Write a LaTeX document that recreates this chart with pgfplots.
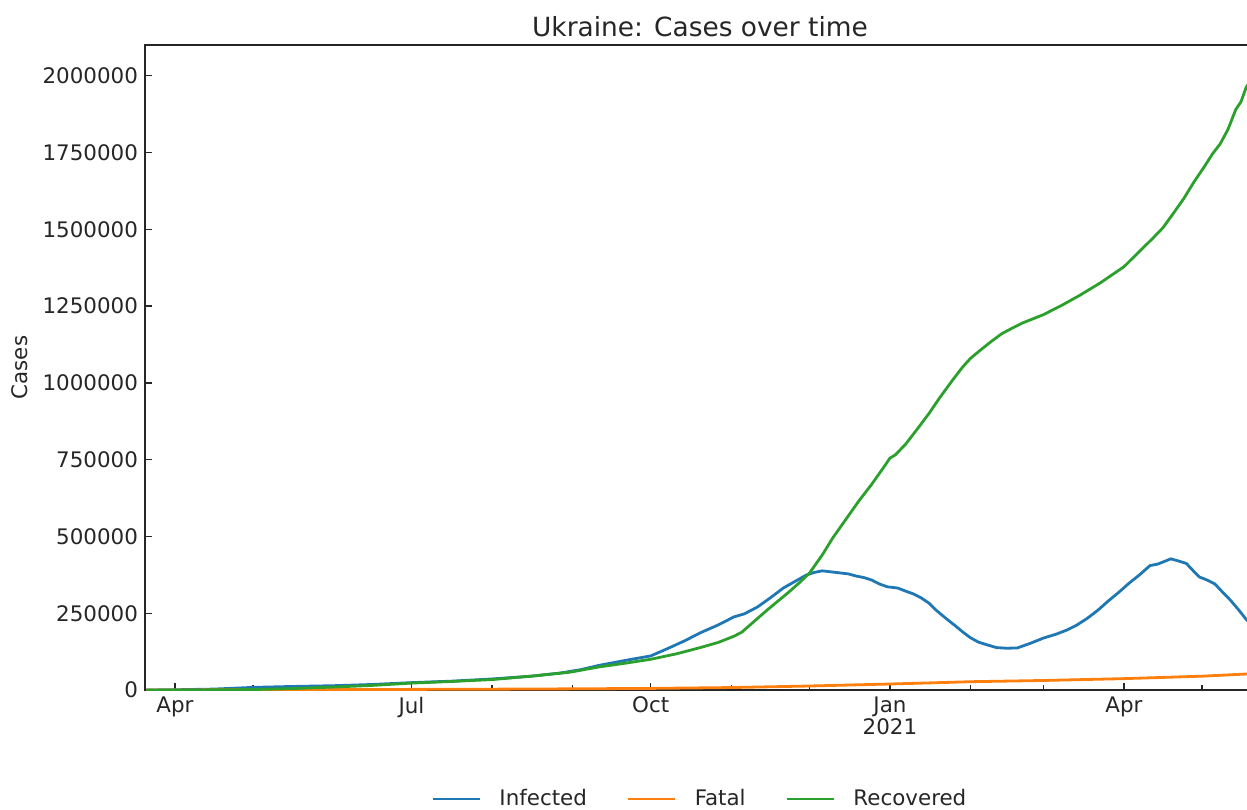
\documentclass[border=0pt]{standalone}
\usepackage{fontspec}
\setmainfont{DejaVu Sans}
\usepackage{pgfplots}
\usepackage{pgfplotstable}
\pgfplotsset{compat=1.18}

\definecolor{mplblue}{HTML}{1F77B4}
\definecolor{mplorange}{HTML}{FF7F0E}
\definecolor{mplgreen}{HTML}{2CA02C}

% day = days since 2020-04-01
\pgfplotstableread{
day cases
-11 0
0 800
15 3000
30 8500
45 11500
61 14000
76 18000
91 24000
107 29000
122 36000
137 45000
148 55000
156 66000
163 80000
173 96000
183 111000
189 133000
196 160000
202 186000
209 212000
215 238000
219 248000
224 270000
229 300000
234 332000
239 356000
243 375000
246 383000
249 388000
252 385000
256 381000
259 378000
262 371000
265 366000
268 358000
271 345000
274 336000
278 332000
281 322000
284 313000
287 300000
290 283000
293 258000
297 230000
300 210000
303 189000
306 170000
309 156000
312 148000
316 138000
320 136000
324 137000
329 152000
334 169000
339 182000
343 195000
347 212000
351 234000
355 260000
359 290000
363 318000
367 348000
371 375000
375 405000
378 410000
381 420000
383 427000
386 420000
389 412000
392 385000
394 368000
397 358000
400 345000
403 318000
406 292000
409 262000
412 230000
416 195000
}\infected

\pgfplotstableread{
day cases
-11 0
0 200
30 600
61 1200
91 2000
122 2700
153 3800
183 5200
214 8000
244 13000
275 19500
298 25000
306 27000
334 31000
365 37000
395 45000
412 52000
416 53500
}\fatal

\pgfplotstableread{
day cases
-11 0
0 100
15 400
30 1500
45 4500
61 9600
76 15000
91 22500
107 28000
122 34000
137 45000
152 58000
163 75000
173 87000
183 100000
193 118000
202 138000
209 155000
215 175000
218 188000
223 225000
228 262000
232 290000
236 318000
240 348000
244 380000
249 440000
253 495000
258 555000
263 615000
268 670000
273 730000
275 755000
277 765000
281 800000
286 855000
290 900000
294 950000
299 1008000
303 1052000
306 1080000
310 1108000
314 1135000
318 1160000
322 1178000
326 1195000
334 1222000
341 1252000
348 1285000
356 1326000
361 1355000
365 1378000
370 1420000
376 1470000
380 1505000
384 1552000
388 1600000
392 1655000
396 1705000
399 1745000
402 1778000
405 1825000
408 1890000
410 1915000
412 1962000
416 2015000
}\recovered

\begin{document}
\begin{tikzpicture}
\begin{axis}[
  scale only axis,
  width=555pt, height=322.5pt,
  xmin=-11.5, xmax=415.4,
  ymin=0, ymax=2100000,
  axis line style={black!85, line width=0.9pt},
  tick align=inside,
  xtick pos=left, ytick pos=left,
  major tick length=3.5pt, minor tick length=2.5pt,
  every tick/.style={black!85, line width=0.7pt},
  xtick={0,91,183,275,365},
  xticklabels={Apr,Jul,Oct,Jan\\2021,Apr},
  minor xtick={30,61,122,153,214,244,306,334,395},
  ytick={0,250000,500000,750000,1000000,1250000,1500000,1750000,2000000},
  scaled y ticks=false,
  tick label style={font=\fontsize{10.7}{11}\selectfont, text=black!85},
  xticklabel style={align=center},
  title={Ukraine: Cases over time},
  every axis title/.style={at={(axis description cs:0.5,1)}, anchor=center,
    yshift=9pt, font=\fontsize{13.2}{15}\selectfont, text=black!85},
  ylabel={Cases},
  ylabel style={at={(axis description cs:-0.1126,0.5)}, anchor=center,
    font=\fontsize{10.7}{12}\selectfont, text=black!85},
  legend style={at={(axis description cs:0.5,-0.169)}, anchor=center,
    draw=none, fill=none, legend columns=3, inner sep=0pt,
    nodes={inner sep=1pt},
    font=\fontsize{10.7}{12}\selectfont, text=black!85,
    /tikz/every even column/.append style={column sep=19pt},
    /tikz/every odd column/.append style={column sep=8pt}},
  legend image code/.code={\draw[#1] (0pt,0pt) -- (23.5pt,0pt);},
  /pgf/number format/fixed,
  /pgf/number format/1000 sep={},
  /pgf/number format/assume math mode=true,
]
\addplot[mplblue, line width=1.4pt] table[x=day, y=cases] {\infected};
\addlegendentry{Infected}
\addplot[mplorange, line width=1.4pt] table[x=day, y=cases] {\fatal};
\addlegendentry{Fatal}
\addplot[mplgreen, line width=1.4pt] table[x=day, y=cases] {\recovered};
\addlegendentry{Recovered}
\end{axis}
\pgfresetboundingbox
\path[use as bounding box]
  ([shift={(-72.5pt,-59.5pt)}]current axis.south west)
  rectangle ([shift={(551pt,22.5pt)}]current axis.north west);
\end{tikzpicture}
\end{document}
